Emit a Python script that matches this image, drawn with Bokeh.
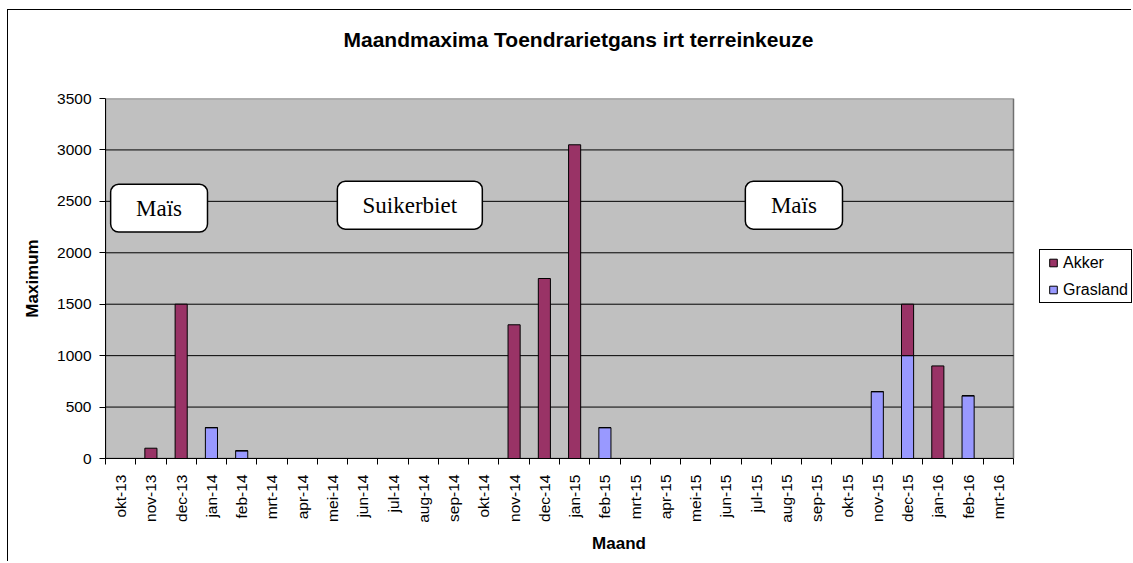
import math
import numpy as np
from bokeh.plotting import figure
from bokeh.models import (ColumnDataSource, Range1d, FixedTicker, Legend, LegendItem,
                          BoxAnnotation, Label, Title)
from bokeh.embed import file_html
from bokeh.resources import INLINE

months = ["okt-13", "nov-13", "dec-13", "jan-14", "feb-14", "mrt-14", "apr-14", "mei-14",
          "jun-14", "jul-14", "aug-14", "sep-14", "okt-14", "nov-14", "dec-14", "jan-15",
          "feb-15", "mrt-15", "apr-15", "mei-15", "jun-15", "jul-15", "aug-15", "sep-15",
          "okt-15", "nov-15", "dec-15", "jan-16", "feb-16", "mrt-16"]
akker = [0, 100, 1500, 0, 0, 0, 0, 0, 0, 0, 0, 0, 0, 1300, 1750, 3050,
         0, 0, 0, 0, 0, 0, 0, 0, 0, 0, 500, 900, 0, 0]
grasland = [0, 0, 0, 300, 75, 0, 0, 0, 0, 0, 0, 0, 0, 0, 0, 0,
            300, 0, 0, 0, 0, 0, 0, 0, 0, 650, 1000, 0, 610, 0]
series_names = ["Akker", "Grasland"]
series_colors = ["#993366", "#9999FF"]
y_ticks = [0, 500, 1000, 1500, 2000, 2500, 3000, 3500]
crop_labels = ["Maïs", "Suikerbiet", "Maïs"]
title_text = "Maandmaxima Toendrarietgans irt terreinkeuze"

FONT = "Liberation Sans"
N = len(months)
Y_MAX = y_ticks[-1]

x = np.arange(N) + 0.5
src = ColumnDataSource(dict(x=x, months=months, Akker=akker, Grasland=grasland))

# frame spans to the right edge so the legend (outside the grey plot area) is not clipped
p = figure(width=1124, height=552, output_backend="svg", toolbar_location=None,
           x_range=Range1d(0, N * 1027 / 908), y_range=Range1d(0, Y_MAX),
           min_border_left=97, min_border_right=0, min_border_top=88, min_border_bottom=104,
           background_fill_color="white", border_fill_color="white",
           outline_line_color=None)
p.margin = (9, 0, 0, 7)
p.styles = {"border-left": "1.5px solid black", "border-top": "1px solid black"}

# grey plot area
p.add_layout(BoxAnnotation(left=0, right=N, bottom=0, top=Y_MAX, level="underlay",
                           fill_color="#C0C0C0", fill_alpha=1,
                           line_color="#707070", line_alpha=1, line_width=1.5))

# title (outermost) plus a blank spacer title between it and the plot area
p.title.text = title_text
p.title.align = "left"
p.title.offset = 238
p.title.text_font = FONT
p.title.text_font_size = "21px"
p.title.text_font_style = "bold"
p.title.text_color = "black"
p.add_layout(Title(text=" ", text_font_size="28px"), "above")

# horizontal gridlines limited to the grey plot area
grid_y = [t for t in y_ticks if 0 < t < Y_MAX]
p.segment(x0=[0] * len(grid_y), x1=[N] * len(grid_y), y0=grid_y, y1=grid_y,
          line_color="black", line_width=1)
p.xgrid.grid_line_color = None
p.ygrid.grid_line_color = None

# bars: Grasland at bottom, Akker on top
r = p.vbar_stack(["Grasland", "Akker"], x="x", width=0.4, source=src,
                 fill_color=[series_colors[1], series_colors[0]],
                 line_color="black", line_width=1)

# legend proxies (square swatches, nothing drawn in the plot)
proxies = [p.scatter(x=[np.nan], y=[np.nan], marker="square", size=8, fill_color=c,
                     line_color="black", line_width=1) for c in series_colors]

legend = Legend(items=[LegendItem(label=n, renderers=[pr]) for n, pr in zip(series_names, proxies)],
                location=(934, 155), orientation="vertical",
                border_line_color="black", border_line_width=1, border_line_alpha=1,
                background_fill_color="white", background_fill_alpha=1,
                label_text_font=FONT, label_text_font_size="16px", label_text_color="black",
                glyph_width=20, glyph_height=19, label_standoff=0,
                padding=3, spacing=8, margin=0, label_height=19)
p.add_layout(legend, "center")

# axes
xa = p.xaxis[0]
xa.bounds = (0, N)
xa.ticker = FixedTicker(ticks=list(x), minor_ticks=list(range(N + 1)))
xa.major_label_overrides = {float(v): m for v, m in zip(x, months)}
xa.major_label_orientation = math.pi / 2
xa.major_tick_out = 0
xa.major_tick_in = 0
xa.minor_tick_out = 6
xa.minor_tick_in = 0
xa.minor_tick_line_color = "black"
xa.axis_line_color = "black"
xa.major_label_text_font = FONT
xa.major_label_text_font_size = "15.5px"
xa.major_label_text_color = "black"
xa.major_label_standoff = 10
xa.axis_label = "Maand"
xa.axis_label_text_font = FONT
xa.axis_label_text_font_size = "17px"
xa.axis_label_text_font_style = "bold"
xa.axis_label_text_color = "black"
xa.axis_label_standoff = 8

ya = p.yaxis[0]
ya.ticker = FixedTicker(ticks=y_ticks)
ya.major_tick_out = 6
ya.major_tick_in = 0
ya.minor_tick_line_color = None
ya.axis_line_color = "black"
ya.major_tick_line_color = "black"
ya.major_label_text_font = FONT
ya.major_label_text_font_size = "15.5px"
ya.major_label_text_color = "black"
ya.major_label_standoff = 8
ya.axis_label = "Maximum"
ya.axis_label_text_font = FONT
ya.axis_label_text_font_size = "17px"
ya.axis_label_text_font_style = "bold"
ya.axis_label_text_color = "black"
ya.axis_label_standoff = 12

# crop annotation boxes (data coordinates)
boxes = [(0.17, 3.37, 2666, 2201), (7.66, 12.45, 2695, 2230), (21.14, 24.35, 2695, 2230)]
for text, (l, rr, t, b) in zip(crop_labels, boxes):
    p.add_layout(BoxAnnotation(left=l, right=rr, top=t, bottom=b,
                               fill_color="white", fill_alpha=1,
                               line_color="black", line_alpha=1, line_width=1.5,
                               border_radius=8))
    p.add_layout(Label(x=(l + rr) / 2, y=(t + b) / 2, text=text,
                       text_align="center", text_baseline="middle",
                       text_font="Liberation Serif", text_font_size="23px",
                       text_color="black"))

open("out.html", "w").write(file_html(p, INLINE))
